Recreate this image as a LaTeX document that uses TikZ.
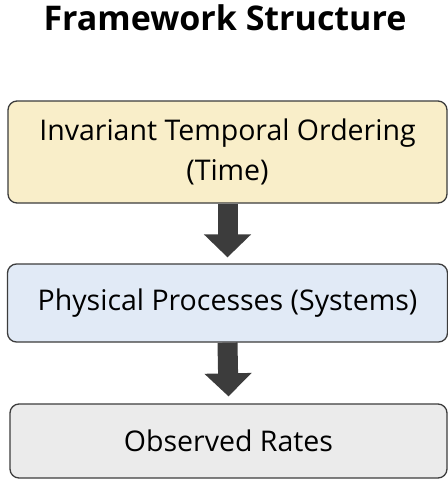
\documentclass[tikz,border=0pt]{standalone}
\usepackage{fontspec}
\setmainfont{Open Sans}
\usepackage{tikz}
\usetikzlibrary{arrows.meta}
\usepackage{xcolor}

\definecolor{timefill}{RGB}{249,238,201}
\definecolor{sysfill}{RGB}{225,234,246}
\definecolor{ratefill}{RGB}{235,235,235}
\definecolor{edge}{RGB}{60,60,60}

\begin{document}
\begin{tikzpicture}[x=1pt, y=-1pt,
		box/.style={draw=edge, line width=1.3pt, rounded corners=9pt, align=center,
			font=\fontsize{28.5}{40}\selectfont, inner sep=0pt},
		flow/.style={draw=edge, line width=20pt,
			-{Triangle[width=46pt,length=23pt]}}]
		\useasboundingbox (0, 0) rectangle (448, 483);

		\node [font=\bfseries\fontsize{34}{40}\selectfont] (title) at (225, 18) {Framework Structure};

		\node [box, fill=timefill, minimum width=439pt, minimum height=102pt] (time) at (227.5, 152)
			{Invariant Temporal Ordering\\(Time)};
		\node [box, fill=sysfill, minimum width=440pt, minimum height=78pt] (sys) at (227.5, 303)
			{Physical Processes (Systems)};
		\node [box, fill=ratefill, minimum width=437pt, minimum height=74pt] (rates) at (228.5, 441)
			{Observed Rates};

		\draw [flow] (time.south) -- ([yshift=6pt]sys.north);
		\draw [flow] (sys.south) -- ([yshift=7pt]rates.north);
	\end{tikzpicture}
\end{document}
